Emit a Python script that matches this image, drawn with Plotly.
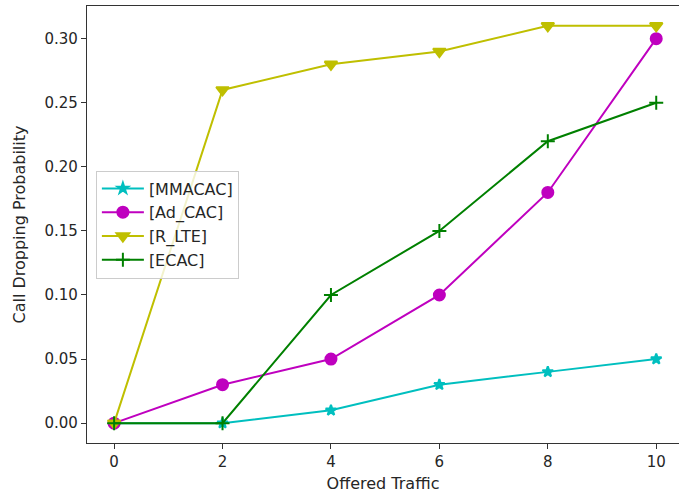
import plotly.graph_objects as go

traffic = [0, 2, 4, 6, 8, 10]
mmacac = [0.0, 0.0, 0.01, 0.03, 0.04, 0.05]
ad_cac = [0.0, 0.03, 0.05, 0.10, 0.18, 0.30]
r_lte = [0.0, 0.26, 0.28, 0.29, 0.31, 0.31]
ecac = [0.0, 0.0, 0.10, 0.15, 0.22, 0.25]

series = [
    ("[MMACAC]", mmacac, "#00bfbf", "star", 8),
    ("[Ad_CAC]", ad_cac, "#bf00bf", "circle", 11),
    ("[R_LTE]", r_lte, "#bfbf00", "triangle-down", 11),
    ("[ECAC]", ecac, "#008000", "cross-thin-open", 10),
]

fig = go.Figure()
for name, ys, col, sym, sz in series:
    fig.add_trace(go.Scatter(
        x=traffic, y=ys, name=name, mode="lines+markers",
        line=dict(color=col, width=2),
        marker=dict(symbol=sym, size=sz, color=col, line=dict(color=col, width=2)),
    ))

tick_font = dict(family="DejaVu Sans", size=15, color="#262626")
title_font = dict(family="DejaVu Sans", size=16, color="#262626")
fig.update_layout(
    width=679, height=493,
    margin=dict(l=87, r=0, t=6, b=50),
    paper_bgcolor="white", plot_bgcolor="white",
    font=tick_font,
    showlegend=True,
    legend=dict(x=0.015, y=0.5, xanchor="left", yanchor="middle",
                bgcolor="rgba(255,255,255,0.8)", bordercolor="#cccccc", borderwidth=1,
                font=dict(family="DejaVu Sans", size=16, color="#262626"),
                itemwidth=42, tracegroupgap=2),
)
fig.update_xaxes(
    range=[-0.5, 10.42], tickvals=[0, 2, 4, 6, 8, 10],
    automargin=False, tickfont=tick_font,
    showgrid=False, zeroline=False, showline=True, linecolor="#333333", linewidth=1.2,
    mirror=True, ticks="outside", ticklen=5, tickcolor="#333333",
    title=dict(text="Offered Traffic", standoff=8, font=title_font),
)
fig.update_yaxes(
    range=[-0.0155, 0.3255], tickvals=[0, 0.05, 0.10, 0.15, 0.20, 0.25, 0.30],
    tickformat=".2f", automargin=False, tickfont=tick_font,
    showgrid=False, zeroline=False, showline=True, linecolor="#333333", linewidth=1.2,
    ticks="outside", ticklen=5, tickcolor="#333333",
    title=dict(text="Call Dropping Probability", standoff=14, font=title_font),
)
fig.write_html("out.html", config={"displayModeBar": False},
               post_script="document.body.style.margin='0px';")
